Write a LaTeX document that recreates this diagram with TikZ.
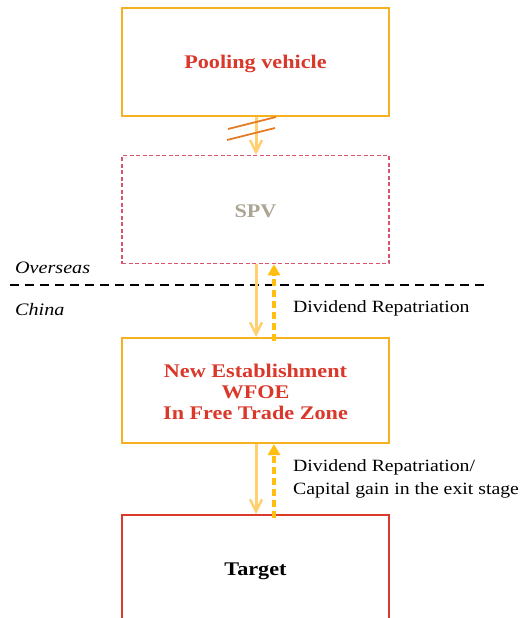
\documentclass[tikz,border=0pt]{standalone}
\usepackage{fontspec}
\setmainfont{Liberation Serif}[FakeStretch=1.15]
\usetikzlibrary{arrows.meta}
\definecolor{boxgold}{HTML}{F5B120}
\definecolor{spvpink}{HTML}{D9556E}
\definecolor{spvtext}{HTML}{ADA593}
\definecolor{titlered}{HTML}{D9382A}
\definecolor{targetred}{HTML}{D93A2A}
\definecolor{flowlight}{HTML}{FFCF70}
\definecolor{flowdash}{HTML}{FFBE10}
\definecolor{breakorange}{HTML}{E47A22}
\begin{document}
\begin{tikzpicture}[x=1pt,y=-1pt,
  entity/.style={draw=boxgold,line width=2pt,minimum width=267pt,minimum height=108pt,inner sep=0pt,
    font=\fontsize{19.3}{21}\selectfont\bfseries,text=titlered,align=center},
  invest/.style={draw=flowlight,line width=3pt,-{Straight Barb[length=12pt,width=12pt,line width=2.4pt]}},
  repat/.style={draw=flowdash,line width=3.2pt,dash pattern=on 7pt off 4pt,-{Triangle[length=11pt,width=12pt]}},
  note/.style={font=\fontsize{17.2}{23}\selectfont,anchor=north west,align=left,inner sep=0pt},
  side/.style={font=\fontsize{17.5}{20}\selectfont\itshape,anchor=west,inner sep=0pt}]
\clip (0,0) rectangle (523,618);
\fill[white] (0,0) rectangle (523,618);

% entities
\node[entity] (pool) at (255.5,62) {};
\node[font=\fontsize{19.3}{21}\selectfont\bfseries,text=titlered] (poollabel) at (255.5,63.5) {Pooling vehicle};
\node[entity,draw=spvpink,line width=1.5pt,dash pattern=on 4pt off 2.5pt] (spv) at (255.5,209.5) {};
\node[font=\fontsize{19.3}{21}\selectfont\bfseries,text=spvtext] (spvlabel) at (255.5,211) {SPV};
\node[entity,minimum height=105pt] (wfoe) at (255.5,390.5) {};
\node[font=\fontsize{19.3}{21}\selectfont\bfseries,text=titlered,align=center] (wfoelabel) at (255.5,391.5) {New Establishment\\WFOE\\In Free Trade Zone};
\node[entity,draw=targetred,minimum height=130pt] (target) at (255.5,580) {};
\node[font=\fontsize{19.3}{21}\selectfont\bfseries] (targetlabel) at (255.5,571.5) {Target};

% border between jurisdictions
\coordinate (bl) at (10,285);
\coordinate (br) at (484,285);
\draw[black,line width=1.8pt,dash pattern=on 9pt off 6pt] (bl) -- (br);
\node[side] (overseas) at (15,268) {Overseas};
\node[side] (china) at (15,310) {China};

% capital flows
\draw[invest] (pool.south -| 256,0) -- (spv.north -| 256,0);
\draw[invest] (spv.south -| 256,0) -- (wfoe.north -| 256,0);
\draw[invest] (wfoe.south -| 256,0) -- (target.north -| 256,0);

% repatriation flows
\draw[repat] ([yshift=-4pt]wfoe.north -| 274,0) -- (spv.south -| 274,0);
\draw[repat] ([yshift=-4pt]target.north -| 274,0) -- (wfoe.south -| 274,0);

% break marks on the pooling link
\coordinate (b1s) at (228,129);
\coordinate (b1e) at (276,117);
\coordinate (b2s) at (227,140);
\coordinate (b2e) at (275,128);
\draw[breakorange,line width=1.8pt] (b1s) -- (b1e);
\draw[breakorange,line width=1.8pt] (b2s) -- (b2e);

% flow labels
\node[note] (lbl1) at (293,300) {Dividend Repatriation};
\node[note] (lbl2) at (293,459) {Dividend Repatriation/\\Capital gain in the exit stage};
\end{tikzpicture}
\end{document}
